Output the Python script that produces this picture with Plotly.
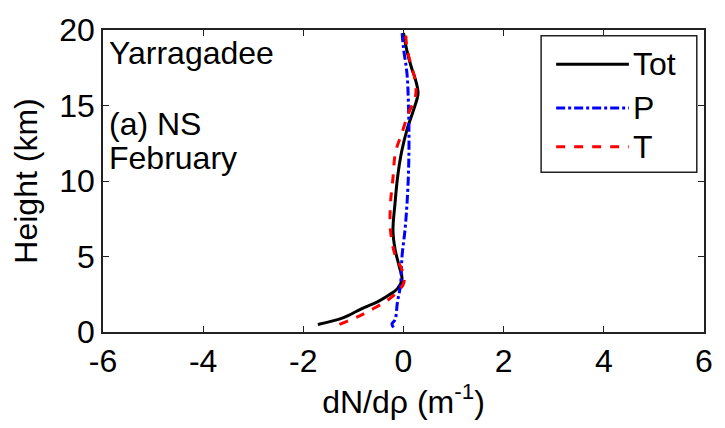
import plotly.graph_objects as go

# Tot (black solid)
tot_h = [0.5, 0.93, 1.57, 2.0, 2.45, 2.87, 3.5, 4.4, 5.5, 6.75, 8.5, 10.2, 11.9, 13.4, 14.7, 15.8, 16.7, 17.5, 18.6, 19.8]
tot_x = [-1.71, -1.21, -0.82, -0.52, -0.29, -0.12, -0.03, -0.09, -0.17, -0.21, -0.17, -0.12, -0.04, 0.07, 0.20, 0.29, 0.24, 0.16, 0.07, 0.0]

# P (blue dash-dot)
p_h = [0.3, 0.55, 0.8, 2.0, 3.1, 5.0, 6.75, 8.5, 10.6, 12.7, 14.9, 17.1, 18.8, 19.9]
p_x = [-0.20, -0.23, -0.17, -0.12, -0.06, -0.03, 0.03, 0.07, 0.10, 0.11, 0.10, 0.07, 0.0, -0.03]

# T (red dashed)
t_h = [0.5, 1.0, 1.57, 2.1, 2.65, 3.3, 4.2, 5.0, 6.75, 8.5, 10.2, 11.9, 13.2, 14.5, 15.6, 16.7, 17.8, 18.8, 19.9]
t_x = [-1.28, -0.92, -0.59, -0.32, -0.12, 0.01, -0.04, -0.16, -0.26, -0.26, -0.21, -0.16, -0.03, 0.10, 0.24, 0.23, 0.14, 0.07, 0.04]

x_ticks = [-6, -4, -2, 0, 2, 4, 6]
y_ticks = [0, 5, 10, 15, 20]

series_names = ["Tot", "P", "T"]
series_colors = ["black", "#0000ff", "#ff0000"]
series_dash = ["solid", "dashdot", "dash"]

FONT = "Liberation Sans, Arial, sans-serif"
FS = 32

fig = go.Figure()
for name, xs, hs, col, dash in zip(series_names, [tot_x, p_x, t_x], [tot_h, p_h, t_h],
                                   series_colors, series_dash):
    fig.add_trace(go.Scatter(x=xs, y=hs, mode="lines", name=name, showlegend=False,
                             line=dict(color=col, width=3, dash=dash, shape="spline")))

axis_common = dict(showline=True, linecolor="#222", linewidth=1.5, mirror="ticks",
                   ticks="inside", ticklen=6, tickcolor="#222", showgrid=False,
                   zeroline=False, tickfont=dict(family=FONT, size=FS, color="black"))

fig.update_xaxes(range=[-6, 6], tickvals=x_ticks, ticktext=[str(v) for v in x_ticks],
                 title=dict(text="dN/dρ (m<sup>-1</sup>)", font=dict(family=FONT, size=FS, color="black"),
                            standoff=8),
                 **axis_common)
fig.update_yaxes(range=[0, 20], tickvals=y_ticks, ticktext=[str(v) for v in y_ticks],
                 title=dict(text="Height (km)", font=dict(family=FONT, size=FS, color="black"),
                            standoff=12),
                 **axis_common)

ann_font = dict(family=FONT, size=FS, color="black")
fig.add_annotation(x=-6, y=18.45, text="Yarragadee", showarrow=False, xanchor="left",
                   yanchor="middle", xshift=4, font=ann_font)
fig.add_annotation(x=-6, y=13.8, text="(a) NS", showarrow=False, xanchor="left",
                   yanchor="middle", xshift=4, font=ann_font)
fig.add_annotation(x=-6, y=11.55, text="February", showarrow=False, xanchor="left",
                   yanchor="middle", xshift=4, font=ann_font)

# Legend box drawn in paper coordinates (MATLAB-style long line samples)
shapes = [dict(type="rect", xref="paper", yref="paper", x0=0.729, x1=0.988, y0=0.529, y1=0.981,
               line=dict(color="#222", width=1.5), fillcolor="white", layer="above")]
leg_y = [0.887, 0.742, 0.613]
for name, col, dash, ly in zip(series_names, series_colors, series_dash, leg_y):
    shapes.append(dict(type="line", xref="paper", yref="paper", x0=0.754, x1=0.875, y0=ly, y1=ly,
                       line=dict(color=col, width=3, dash=dash), layer="above"))
    fig.add_annotation(xref="paper", yref="paper", x=0.878, y=ly, text=name, showarrow=False,
                       xanchor="left", yanchor="middle", font=ann_font)

fig.update_layout(
    width=725, height=428,
    margin=dict(l=103, r=16, t=22, b=96),
    plot_bgcolor="white", paper_bgcolor="white",
    showlegend=False,
    shapes=shapes,
)

fig.write_html("out.html")
